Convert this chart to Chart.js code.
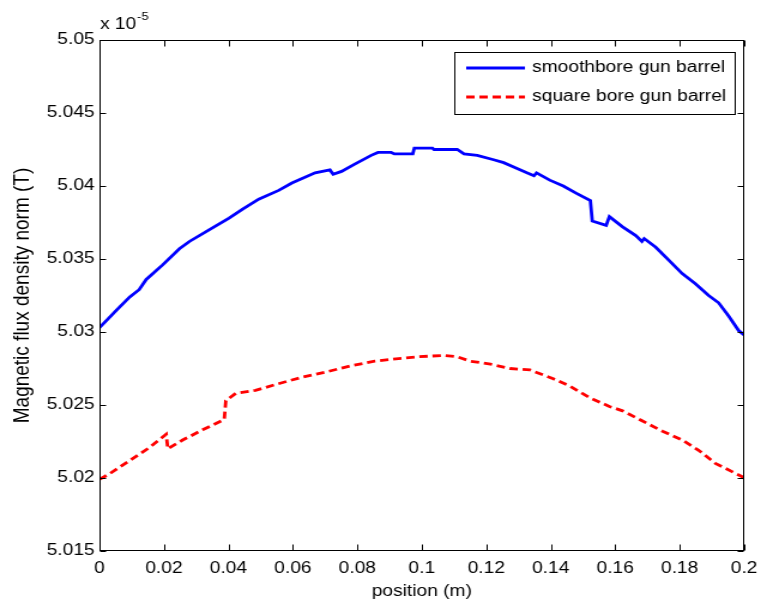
<!DOCTYPE html>
<html><head><meta charset="utf-8">
<script src="https://cdn.jsdelivr.net/npm/chart.js@4"></script>
<style>
html,body{margin:0;padding:0;background:#fff;overflow:hidden;}
#wrap{width:640px;height:608px;transform:scaleX(1.1984375);transform-origin:0 0;}
canvas{display:block;}
</style></head><body>
<div id="wrap"><canvas id="c" width="640" height="608"></canvas></div>
<script>
// ---- data (y values in units of 1e-5 T) ----
const seriesNames = ['smoothbore gun barrel', 'square bore gun barrel'];
const smoothX = [0, 0.0053, 0.0094, 0.0123, 0.0145, 0.0196, 0.0248, 0.0279, 0.0340, 0.0402, 0.0443, 0.0494, 0.0556, 0.0597, 0.0669, 0.0715, 0.0725, 0.0751, 0.0792, 0.0843, 0.0864, 0.0905, 0.0915, 0.0972, 0.0977, 0.1033, 0.1038, 0.1110, 0.1131, 0.1172, 0.1223, 0.1254, 0.1285, 0.1326, 0.1348, 0.1356, 0.1397, 0.1439, 0.1480, 0.1523, 0.1529, 0.1572, 0.1582, 0.1623, 0.1664, 0.1683, 0.1690, 0.1726, 0.1767, 0.1808, 0.1849, 0.1890, 0.1921, 0.1952, 0.1983, 0.2];
const smoothY = [5.0303, 5.0315, 5.0324, 5.0329, 5.0336, 5.0346, 5.0357, 5.0362, 5.0370, 5.0378, 5.0384, 5.0391, 5.0397, 5.0402, 5.0409, 5.0411, 5.0408, 5.0410, 5.0415, 5.0421, 5.0423, 5.0423, 5.0422, 5.0422, 5.0426, 5.0426, 5.0425, 5.0425, 5.0422, 5.0421, 5.0418, 5.0416, 5.0413, 5.0409, 5.0407, 5.0409, 5.0404, 5.0400, 5.0395, 5.0390, 5.0376, 5.0373, 5.0379, 5.0372, 5.0366, 5.0362, 5.0364, 5.0358, 5.0349, 5.0340, 5.0333, 5.0325, 5.0320, 5.0311, 5.0301, 5.0298];
const squareX = [0, 0.0032, 0.0094, 0.0156, 0.0207, 0.0212, 0.0258, 0.0320, 0.0387, 0.0392, 0.0423, 0.0484, 0.0546, 0.0628, 0.0710, 0.0782, 0.0854, 0.0936, 0.0987, 0.1069, 0.1110, 0.1151, 0.1213, 0.1274, 0.1336, 0.1408, 0.1459, 0.1521, 0.1582, 0.1623, 0.1685, 0.1747, 0.1808, 0.1859, 0.1911, 0.1993, 0.2];
const squareY = [5.0199, 5.0203, 5.0212, 5.0221, 5.0230, 5.0220, 5.0226, 5.0233, 5.0240, 5.0253, 5.0258, 5.0260, 5.0264, 5.0269, 5.0273, 5.0277, 5.0280, 5.0282, 5.0283, 5.0284, 5.0283, 5.0280, 5.0278, 5.0275, 5.0274, 5.0268, 5.0263, 5.0255, 5.0249, 5.0246, 5.0239, 5.0232, 5.0226, 5.0219, 5.0210, 5.0201, 5.0199];
const xTicks = [0, 0.02, 0.04, 0.06, 0.08, 0.1, 0.12, 0.14, 0.16, 0.18, 0.2];
const xTickLabels = ['0', '0.02', '0.04', '0.06', '0.08', '0.1', '0.12', '0.14', '0.16', '0.18', '0.2'];
const yTicks = [5.015, 5.02, 5.025, 5.03, 5.035, 5.04, 5.045, 5.05];
const yTickLabels = ['5.015', '5.02', '5.025', '5.03', '5.035', '5.04', '5.045', '5.05'];
const xTitle = 'position (m)';
const yTitle = 'Magnetic flux density norm (T)';
const exponentBase = 'x 10';
const exponentPower = '-5';

const FONT = '"Liberation Sans", Arial, Helvetica, sans-serif';
const toPts = (xs, ys) => xs.map((v, i) => ({x: v, y: ys[i]}));

const decor = {
  id: 'decor',
  afterDraw(chart) {
    const {ctx, chartArea: a, scales: {x, y}} = chart;
    ctx.save();
    ctx.strokeStyle = '#000';
    ctx.lineWidth = 1;
    const L = Math.round(a.left) + 0.5, R = Math.round(a.right) - 0.5;
    const T = Math.round(a.top) + 0.5, B = Math.round(a.bottom) - 0.5;
    ctx.strokeRect(L, T, R - L, B - T);
    ctx.beginPath();
    xTicks.forEach(v => {
      const px = Math.round(x.getPixelForValue(v)) + 0.5;
      ctx.moveTo(px, B); ctx.lineTo(px, B - 6);
      ctx.moveTo(px, T); ctx.lineTo(px, T + 6);
    });
    yTicks.forEach(v => {
      const py = Math.round(y.getPixelForValue(v)) + 0.5;
      ctx.moveTo(L, py); ctx.lineTo(L + 5, py);
      ctx.moveTo(R, py); ctx.lineTo(R - 5, py);
    });
    ctx.stroke();

    // exponent label
    ctx.fillStyle = '#000';
    ctx.textBaseline = 'alphabetic';
    ctx.textAlign = 'left';
    ctx.font = '16px ' + FONT;
    ctx.fillText(exponentBase, 83.4, 29);
    ctx.font = '11px ' + FONT;
    ctx.fillText(exponentPower, 114.3, 20);

    // legend
    const bx = 379.5, by = 52.5, bw = 234, bh = 62;
    ctx.fillStyle = '#fff';
    ctx.fillRect(bx, by, bw, bh);
    ctx.strokeStyle = '#000';
    ctx.lineWidth = 1;
    ctx.strokeRect(bx, by, bw, bh);
    chart.data.datasets.forEach((ds, i) => {
      const ly = 68 + i * 29;
      ctx.beginPath();
      ctx.strokeStyle = ds.borderColor;
      ctx.lineWidth = ds.borderWidth;
      ctx.setLineDash(ds.borderDash || []);
      ctx.moveTo(389, ly); ctx.lineTo(438, ly);
      ctx.stroke();
      ctx.setLineDash([]);
      ctx.fillStyle = '#000';
      ctx.font = '16px ' + FONT;
      ctx.textBaseline = 'middle';
      ctx.fillText(ds.label, 444, ly);
    });
    ctx.restore();
  }
};

new Chart(document.getElementById('c'), {
  type: 'line',
  data: {
    datasets: [
      {label: seriesNames[0], data: toPts(smoothX, smoothY), borderColor: '#0000ff', borderWidth: 2.8, pointRadius: 0, tension: 0, fill: false},
      {label: seriesNames[1], data: toPts(squareX, squareY), borderColor: '#ff0000', borderWidth: 2.8, borderDash: [7, 4], pointRadius: 0, tension: 0, fill: false}
    ]
  },
  options: {
    responsive: false,
    animation: false,
    devicePixelRatio: 1,
    layout: {padding: {top: 40, right: 15, left: 0, bottom: 0}},
    plugins: {legend: {display: false}, tooltip: {enabled: false}},
    scales: {
      x: {
        type: 'linear', min: 0, max: 0.2,
        afterBuildTicks: s => { s.ticks = xTicks.map(v => ({value: v})); },
        afterFit: s => { s.height = 57; },
        grid: {display: false, drawTicks: false},
        border: {display: false},
        ticks: {padding: 8, color: '#000', font: {family: FONT, size: 16}, maxRotation: 0, autoSkip: false,
          callback: (v, i) => xTickLabels[i]},
        title: {display: true, text: xTitle, color: '#000', font: {family: FONT, size: 16}, padding: {top: 4, bottom: 7}}
      },
      y: {
        type: 'linear', min: 5.015, max: 5.05,
        afterBuildTicks: s => { s.ticks = yTicks.map(v => ({value: v})); },
        afterFit: s => { s.width = 83; },
        grid: {display: false, drawTicks: false},
        border: {display: false},
        ticks: {padding: 4, color: '#000', font: {family: FONT, size: 16}, autoSkip: false,
          callback: (v, i) => yTickLabels[i]},
        title: {display: true, text: yTitle, color: '#000', font: {family: FONT, size: 19}, padding: 7}
      }
    }
  },
  plugins: [decor]
});
</script>
</body></html>
